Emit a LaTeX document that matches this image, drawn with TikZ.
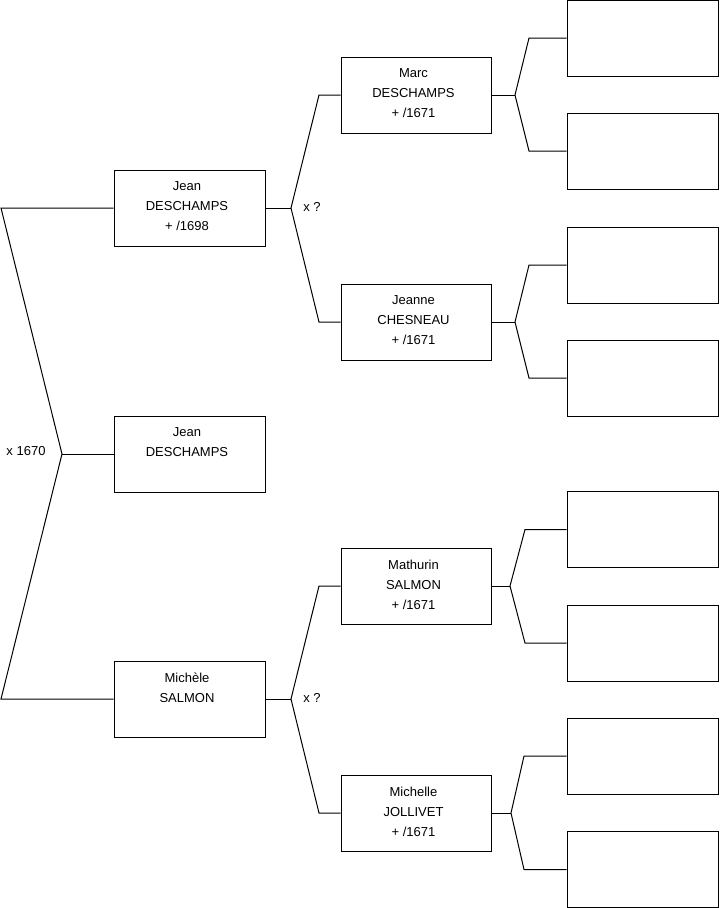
\documentclass[tikz,border=0pt]{standalone}
\usepackage{fontspec}
\setmainfont{Liberation Sans}
\begin{document}
\begin{tikzpicture}[x=0.75pt,y=-0.75pt,
  line width=0.75pt,
  pbox/.style={draw=black, rectangle, minimum width=113.25pt, minimum height=57pt,
    inner sep=0pt},
  ebox/.style={pbox},
  ptext/.style={inner sep=0pt, align=center, font=\fontsize{9.75pt}{15pt}\selectfont},
  lbl/.style={font=\fontsize{9.75pt}{15pt}\selectfont, inner sep=0pt}]
\useasboundingbox (0,0) rectangle (719,908);
% generation 1
\node[pbox] (p0) at (189.5,454) {};
\node[ptext] (t0) at (187,452.5) {Jean\\DESCHAMPS\\\mbox{}};
% generation 2
\node[pbox] (p1) at (189.5,208) {};
\node[ptext] (t1) at (187,206.5) {Jean\\DESCHAMPS\\+ /1698};
\node[pbox] (p2) at (189.5,699) {};
\node[ptext] (t2) at (187,697.5) {Michèle\\SALMON\\\mbox{}};
% generation 3
\node[pbox, minimum width=112.5pt] (p3) at (416,95) {};
\node[ptext] (t3) at (413.5,93.5) {Marc\\DESCHAMPS\\+ /1671};
\node[pbox, minimum width=112.5pt] (p4) at (416,322) {};
\node[ptext] (t4) at (413.5,320.5) {Jeanne\\CHESNEAU\\+ /1671};
\node[pbox, minimum width=112.5pt] (p5) at (416,586) {};
\node[ptext] (t5) at (413.5,584.5) {Mathurin\\SALMON\\+ /1671};
\node[pbox, minimum width=112.5pt] (p6) at (416,813) {};
\node[ptext] (t6) at (413.5,811.5) {Michelle\\JOLLIVET\\+ /1671};
% generation 4
\node[ebox] (r1) at (642.5,38) {};
\node[ebox] (r2) at (642.5,151) {};
\node[ebox] (r3) at (642.5,265) {};
\node[ebox] (r4) at (642.5,378) {};
\node[ebox] (r5) at (642.5,529.5) {};
\node[ebox] (r6) at (642.5,643) {};
\node[ebox] (r7) at (642.5,756) {};
\node[ebox] (r8) at (642.5,869.5) {};
% labels
\node[lbl] (m0) at (26,451) {x 1670};
\node[lbl] (m1) at (312,207) {x ?};
\node[lbl] (m2) at (312,698) {x ?};
% fork points
\coordinate (f0) at (62,454);
\coordinate (a0) at (1,208);
\coordinate (b0) at (1,699);
\coordinate (f1) at (291,208);
\coordinate (a1) at (319,95);
\coordinate (b1) at (319,322);
\coordinate (f2) at (291,699);
\coordinate (a2) at (319,586);
\coordinate (b2) at (319,813);
\coordinate (f3) at (515,95);
\coordinate (a3) at (529,38);
\coordinate (b3) at (529,151);
\coordinate (f4) at (515,322);
\coordinate (a4) at (529,265);
\coordinate (b4) at (529,378);
\coordinate (f5) at (510,586);
\coordinate (a5) at (525,529.5);
\coordinate (b5) at (525,643);
\coordinate (f6) at (511,813);
\coordinate (a6) at (524,756);
\coordinate (b6) at (524,869.5);
% connectors
\draw (p0.west) -- (f0);
\draw (p1.west) -- (a0) -- (f0) -- (b0) -- (p2.west);
\draw (p1.east) -- (f1);
\draw (p3.west) -- (a1) -- (f1) -- (b1) -- (p4.west);
\draw (p2.east) -- (f2);
\draw (p5.west) -- (a2) -- (f2) -- (b2) -- (p6.west);
\draw (p3.east) -- (f3);
\draw (r1.west) -- (a3) -- (f3) -- (b3) -- (r2.west);
\draw (p4.east) -- (f4);
\draw (r3.west) -- (a4) -- (f4) -- (b4) -- (r4.west);
\draw (p5.east) -- (f5);
\draw (r5.west) -- (a5) -- (f5) -- (b5) -- (r6.west);
\draw (p6.east) -- (f6);
\draw (r7.west) -- (a6) -- (f6) -- (b6) -- (r8.west);
\end{tikzpicture}
\end{document}
